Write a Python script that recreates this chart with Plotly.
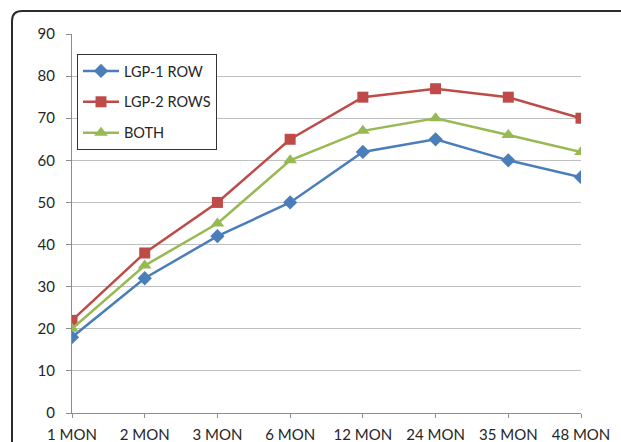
import plotly.graph_objects as go

categories = ["1 MON", "2 MON", "3 MON", "6 MON", "12 MON", "24 MON", "35 MON", "48 MON"]
lgp1_row = [18, 32, 42, 50, 62, 65, 60, 56]
lgp2_rows = [22, 38, 50, 65, 75, 77, 75, 70]
both = [20, 35, 45, 60, 67, 70, 66, 62]
y_ticks = [0, 10, 20, 30, 40, 50, 60, 70, 80, 90]

W, H = 621, 442
L, R, T, B = 72, 40, 34, 29
pw, ph = W - L - R, H - T - B

FONT = "Lato"
TXT = "#262626"
xs = list(range(len(categories)))

fig = go.Figure()
series = [
    ("LGP-1 ROW", lgp1_row, "#4A7EBB", "diamond", 11),
    ("LGP-2 ROWS", lgp2_rows, "#BE4B48", "square", 11),
    ("BOTH", both, "#98B954", "triangle-up", 12),
]
for name, vals, col, sym, sz in series:
    fig.add_trace(go.Scatter(
        x=xs, y=vals, name=name, mode="lines+markers",
        line=dict(color=col, width=2.5),
        marker=dict(symbol=sym, size=sz, color=col, line=dict(width=0)),
        legendgroup=name,
    ))

def px2paper(px, py):
    return (px - L) / pw, (H - B - py) / ph

x0, y0 = px2paper(12, 460)
xc, yc = px2paper(12, 11)
xr, _ = px2paper(22, 11)
_, yr = px2paper(12, 21)
xe, _ = px2paper(640, 11)
fig.add_shape(type="path", xref="paper", yref="paper",
              path=f"M {x0},{y0} L {xc},{yr} Q {xc},{yc} {xr},{yc} L {xe},{yc}",
              line=dict(color="#2b2b2b", width=2))

fig.update_layout(
    width=W, height=H,
    margin=dict(l=L, r=R, t=T, b=B, pad=0),
    paper_bgcolor="white", plot_bgcolor="white",
    font=dict(family=FONT, size=14, color=TXT),
    showlegend=True,
    legend=dict(
        x=(77 - L) / pw, y=(H - B - 54) / ph, xanchor="left", yanchor="top",
        bgcolor="white", bordercolor="#333333", borderwidth=1,
        font=dict(family=FONT, size=14.5, color=TXT),
        traceorder="grouped", tracegroupgap=9, itemwidth=36,
    ),
    xaxis=dict(
        tickmode="array", tickvals=xs, ticktext=categories,
        range=[0, len(categories) - 1], showgrid=False,
        showline=True, linecolor="#8c8c8c", linewidth=1,
        ticks="outside", ticklen=4, tickcolor="#8c8c8c",
        ticklabelstandoff=4,
        tickfont=dict(family=FONT, size=15, color=TXT),
        zeroline=False, fixedrange=True, automargin=False,
    ),
    yaxis=dict(
        range=[0, 90], tickvals=y_ticks,
        showgrid=True, gridcolor="#c0c0c0", gridwidth=1,
        showline=True, linecolor="#8c8c8c", linewidth=1,
        ticks="outside", ticklen=5, tickcolor="#8c8c8c",
        ticklabelstandoff=8,
        tickfont=dict(family=FONT, size=15, color=TXT),
        zeroline=False, fixedrange=True, automargin=False,
    ),
)

fig.write_html(
    "out.html",
    config={"responsive": False, "displayModeBar": False},
    post_script="document.body.style.margin='0';document.body.style.overflow='hidden';",
)
